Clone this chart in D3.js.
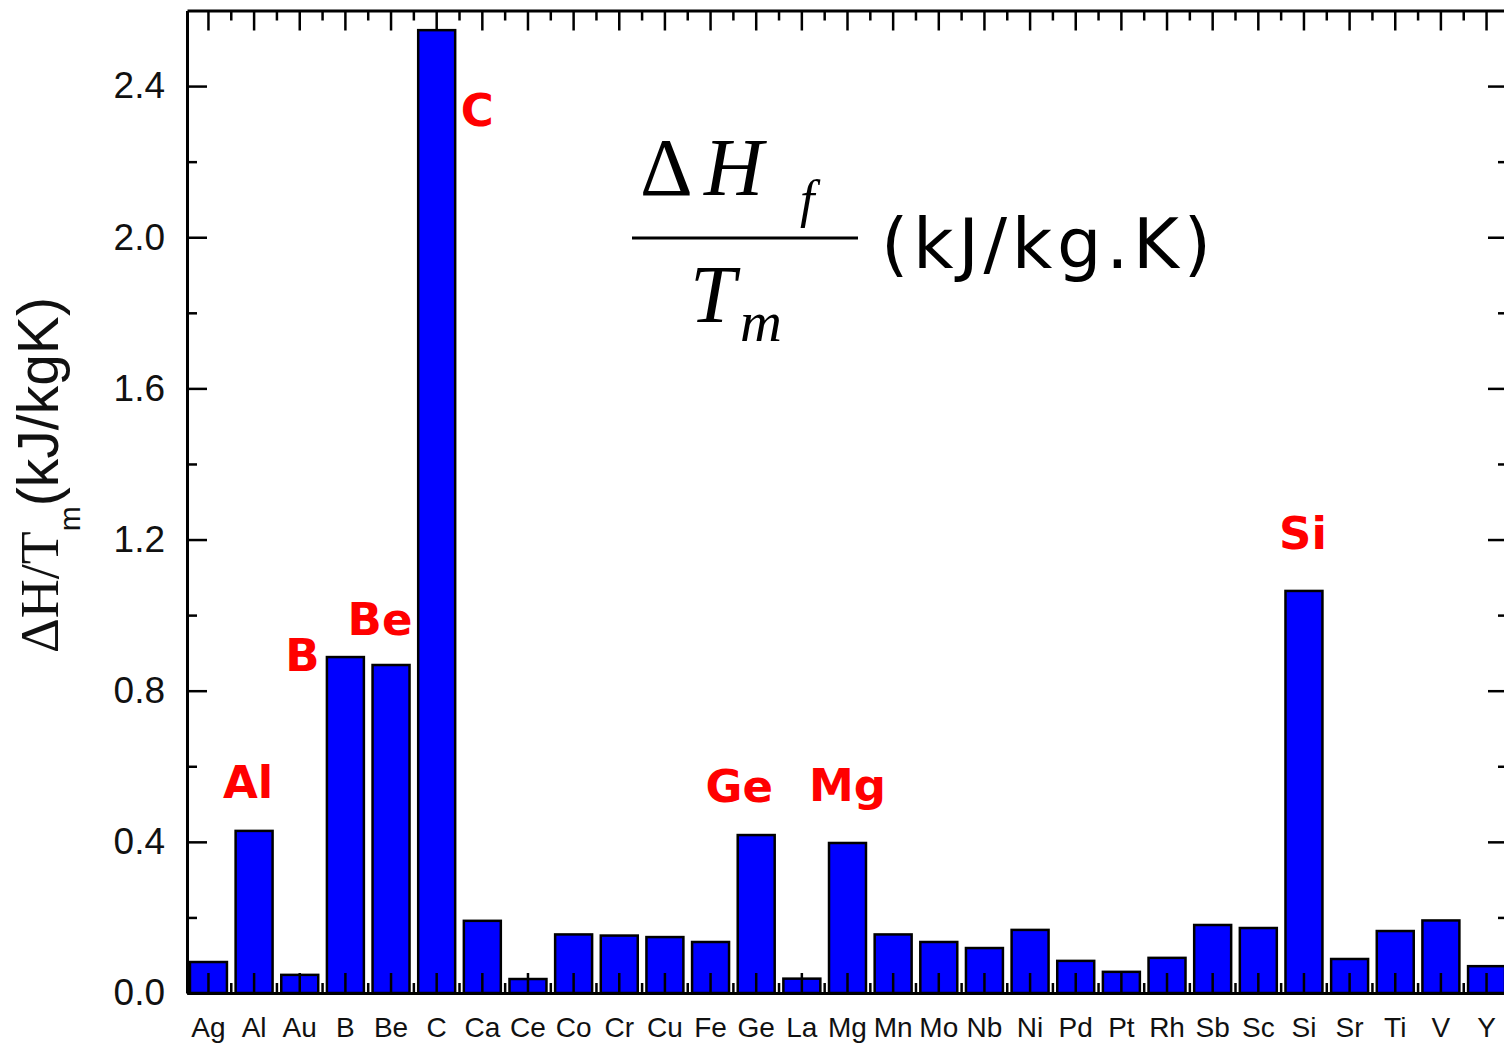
<!DOCTYPE html>
<html>
<head>
<meta charset="utf-8">
<script src="https://cdn.jsdelivr.net/npm/d3@7"></script>
<style>
    body { margin: 0; background: #fff; }
    svg { display: block; }
</style>
</head>
<body>
<div id="chart"></div>
<script>
// element names along the x axis
const elements = ["Ag", "Al", "Au", "B", "Be", "C", "Ca", "Ce", "Co", "Cr", "Cu", "Fe", "Ge", "La", "Mg",
    "Mn", "Mo", "Nb", "Ni", "Pd", "Pt", "Rh", "Sb", "Sc", "Si", "Sr", "Ti", "V", "Y"];
// ΔH/Tm in kJ/kgK
const values = [0.082, 0.429, 0.048, 0.889, 0.868, 2.548, 0.191, 0.037, 0.155, 0.152, 0.148, 0.135, 0.418, 0.038, 0.397,
    0.155, 0.135, 0.119, 0.167, 0.085, 0.056, 0.093, 0.180, 0.172, 1.064, 0.090, 0.164, 0.192, 0.071];
const yTicks = [0, 0.4, 0.8, 1.2, 1.6, 2.0, 2.4];
const yMinorTicks = [0.2, 0.6, 1.0, 1.4, 1.8, 2.2];
// elements that get a red tag
const highlighted = ["Al", "B", "Be", "C", "Ge", "Mg", "Si"];

const data = elements.map((e, i) => ({ name: e, value: values[i] }));

const width = 1504, height = 1043;
const margin = { top: 10.5, right: -4, bottom: 50, left: 187 };

const svg = d3.select("#chart")
    .append("svg")
    .attr("width", width)
    .attr("height", height);

const x = d3.scaleBand()
    .domain(elements)
    .range([margin.left, width - margin.right])
    .paddingInner(0.19)
    .paddingOuter(0.065);

const y = d3.scaleLinear()
    .domain([0, 2.6])
    .range([height - margin.bottom, margin.top]);

const x0 = margin.left, x1 = width - margin.right;
const yBottom = y(0), yTop = y(2.6);

// bars
svg.selectAll("rect.bar")
    .data(data)
    .join("rect")
    .attr("class", "bar")
    .attr("x", d => x(d.name))
    .attr("y", d => y(d.value))
    .attr("width", x.bandwidth())
    .attr("height", d => y(0) - y(d.value))
    .attr("fill", "#0000ff")
    .attr("stroke", "#000")
    .attr("stroke-width", 2.5);

// red tags next to the notable bars
const tagOffset = {
    Al: [-6, -33], B: [-43, 14], Be: [-11, -30], C: [24, 96],
    Ge: [-17, -33], Mg: [0, -42], Si: [-1, -42]
};
svg.selectAll("text.tag")
    .data(data.filter(d => highlighted.includes(d.name)))
    .join("text")
    .attr("class", "tag")
    .attr("x", d => x(d.name) + x.bandwidth() / 2 + tagOffset[d.name][0])
    .attr("y", d => y(d.value) + tagOffset[d.name][1])
    .attr("text-anchor", d => d.name === "C" ? "start" : "middle")
    .attr("font-family", "DejaVu Sans")
    .attr("font-weight", "bold")
    .attr("font-size", 45)
    .attr("fill", "#ff0000")
    .text(d => d.name);

function styleAxis(g) {
    g.select(".domain").attr("stroke-width", 3).attr("stroke", "#000");
    g.selectAll(".tick line").attr("stroke-width", 2.5).attr("stroke", "#000");
}

// minor x ticks sit halfway between categories
const xMinor = elements.slice(1).map(e => x(e) + x.bandwidth() / 2 - x.step() / 2);

// bottom axis
const gBottom = svg.append("g")
    .attr("transform", `translate(0,${yBottom})`)
    .call(d3.axisBottom(x).tickSizeInner(-20).tickSizeOuter(0).tickPadding(24));
gBottom.selectAll(".tick text")
    .attr("font-family", "Liberation Sans, Arial")
    .attr("font-size", 28)
    .attr("fill", "#111");
gBottom.selectAll("line.minor")
    .data(xMinor)
    .join("line")
    .attr("class", "minor")
    .attr("x1", d => d).attr("x2", d => d)
    .attr("y1", 0).attr("y2", -10)
    .attr("stroke", "#000").attr("stroke-width", 2.5);
styleAxis(gBottom);

// top axis
const gTop = svg.append("g")
    .attr("transform", `translate(0,${yTop})`)
    .call(d3.axisTop(x).tickSizeInner(-20).tickSizeOuter(0).tickFormat(""));
gTop.selectAll("line.minor")
    .data(xMinor)
    .join("line")
    .attr("class", "minor")
    .attr("x1", d => d).attr("x2", d => d)
    .attr("y1", 0).attr("y2", 10)
    .attr("stroke", "#000").attr("stroke-width", 2.5);
styleAxis(gTop);

// left axis
const gLeft = svg.append("g")
    .attr("transform", `translate(${x0},0)`)
    .call(d3.axisLeft(y).tickValues(yTicks).tickSizeInner(-20).tickSizeOuter(0)
        .tickPadding(22).tickFormat(d3.format(".1f")));
gLeft.selectAll(".tick text")
    .attr("font-family", "Liberation Sans, Arial")
    .attr("font-size", 37)
    .attr("fill", "#111");
styleAxis(gLeft);
const gLeftMinor = svg.append("g")
    .attr("transform", `translate(${x0},0)`)
    .call(d3.axisLeft(y).tickValues(yMinorTicks).tickSizeInner(-10).tickSizeOuter(0).tickFormat(""));
styleAxis(gLeftMinor);
gLeftMinor.select(".domain").remove();

// right axis (sits just past the picture edge)
const gRight = svg.append("g")
    .attr("transform", `translate(${x1},0)`)
    .call(d3.axisRight(y).tickValues(yTicks).tickSizeInner(-20).tickSizeOuter(0).tickFormat(""));
styleAxis(gRight);
const gRightMinor = svg.append("g")
    .attr("transform", `translate(${x1},0)`)
    .call(d3.axisRight(y).tickValues(yMinorTicks).tickSizeInner(-10).tickSizeOuter(0).tickFormat(""));
styleAxis(gRightMinor);
gRightMinor.select(".domain").remove();

// y axis title
const yTitle = svg.append("text")
    .attr("transform", "rotate(-90)")
    .attr("x", -475)
    .attr("y", 58)
    .attr("text-anchor", "middle")
    .attr("fill", "#111");
yTitle.append("tspan")
    .attr("font-family", "Liberation Serif, Times New Roman")
    .attr("font-size", 54)
    .text("ΔH/T");
yTitle.append("tspan")
    .attr("font-family", "Liberation Sans, Arial")
    .attr("font-size", 30)
    .attr("dy", 22)
    .text("m");
yTitle.append("tspan")
    .attr("font-family", "Liberation Sans, Arial")
    .attr("font-size", 57)
    .attr("dy", -22)
    .text("(kJ/kgK)");

// formula annotation
const formula = svg.append("g").attr("fill", "#000");
formula.append("text")
    .attr("x", 640).attr("y", 195)
    .attr("font-family", "Liberation Serif, Times New Roman")
    .attr("font-size", 82)
    .text("Δ");
formula.append("text")
    .attr("x", 704).attr("y", 195)
    .attr("font-family", "Liberation Serif, Times New Roman")
    .attr("font-style", "italic")
    .attr("font-size", 82)
    .text("H");
formula.append("text")
    .attr("x", 800).attr("y", 217)
    .attr("font-family", "Liberation Serif, Times New Roman")
    .attr("font-style", "italic")
    .attr("font-size", 52)
    .text("f");
formula.append("line")
    .attr("x1", 632).attr("x2", 858)
    .attr("y1", 238).attr("y2", 238)
    .attr("stroke", "#000").attr("stroke-width", 3);
formula.append("text")
    .attr("x", 690).attr("y", 322)
    .attr("font-family", "Liberation Serif, Times New Roman")
    .attr("font-style", "italic")
    .attr("font-size", 82)
    .text("T");
formula.append("text")
    .attr("x", 740).attr("y", 341)
    .attr("font-family", "Liberation Serif, Times New Roman")
    .attr("font-style", "italic")
    .attr("font-size", 58)
    .text("m");
formula.append("text")
    .attr("x", 881).attr("y", 268)
    .attr("font-family", "DejaVu Sans, Verdana")
    .attr("font-size", 70)
    .attr("textLength", 330)
    .attr("lengthAdjust", "spacing")
    .text("(kJ/kg.K)");
</script>
</body>
</html>
